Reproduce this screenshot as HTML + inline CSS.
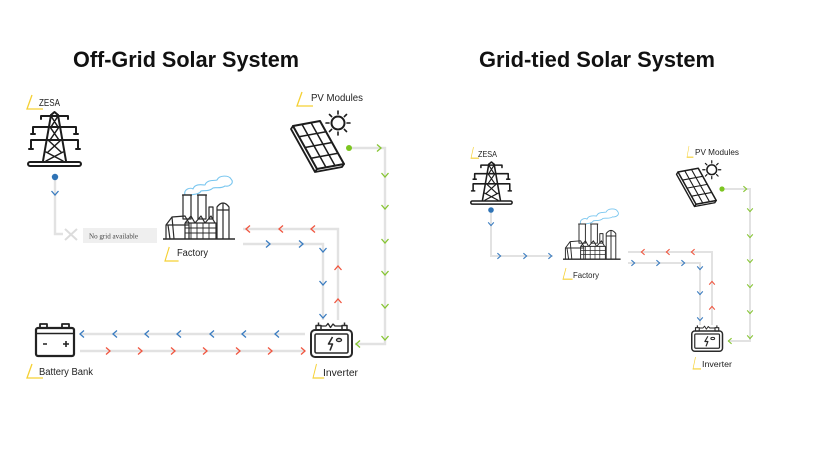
<!DOCTYPE html>
<html>
<head>
<meta charset="utf-8">
<style>
html,body{margin:0;padding:0;background:#fff;}
svg{display:block;}
.t{font-family:"Liberation Sans",Arial,sans-serif;fill:#222;}
.h{font-family:"Liberation Sans",Arial,sans-serif;font-weight:bold;fill:#111;}
</style>
</head>
<body>
<svg width="820" height="462" viewBox="0 0 820 462" xmlns="http://www.w3.org/2000/svg">
<defs>
  <path id="cR" d="M-2,-3.5 L2,0 L-2,3.5" fill="none"/>
  <path id="cL" d="M2,-3.5 L-2,0 L2,3.5" fill="none"/>
  <path id="cD" d="M-3.5,-2 L0,2 L3.5,-2" fill="none"/>
  <path id="cU" d="M-3.5,2 L0,-2 L3.5,2" fill="none"/>
  <path id="sR" d="M-1.6,-2.8 L1.6,0 L-1.6,2.8" fill="none"/>
  <path id="sL" d="M1.6,-2.8 L-1.6,0 L1.6,2.8" fill="none"/>
  <path id="sD" d="M-2.8,-1.6 L0,1.6 L2.8,-1.6" fill="none"/>
  <path id="sU" d="M-2.8,1.6 L0,-1.6 L2.8,1.6" fill="none"/>

  <g id="pylon" fill="none" stroke="#1c1c1c" stroke-width="2" stroke-linecap="round" stroke-linejoin="round">
    <rect x="1" y="50" width="53" height="4" rx="2"/>
    <path d="M16,49 L24,3 M39,49 L31,3"/>
    <path d="M24,3 L27.5,0 L31,3"/>
    <path d="M14,4 H41 M14,4 V7 M41,4 V7"/>
    <path d="M6,15 H49 M6,15 V22 M49,15 V22 M4,22 H8 M47,22 H51"/>
    <path d="M4,28 H51 M4,28 V37 M51,28 V37 M2,37 H6 M49,37 H53"/>
    <path d="M24,4 L31,15 M31,4 L24,15 M23,15 L32,28 M32,15 L23,28 M21,28 L34,40 M34,28 L21,40 M19,40 L36,49 M36,40 L19,49" stroke-width="1.5"/>
  </g>

  <g id="factory" fill="none" stroke="#2a2a2a" stroke-width="1.2" stroke-linejoin="round">
    <path d="M22,20 C20,14 28,12 30,14 C32,8 40,10 42,10 C44,4 52,6 54,5 C56,0 66,0 68,4 C72,8 66,12 62,11 C58,14 52,12 50,13 C46,17 40,15 38,16 C36,20 30,19 28,20 Z" stroke="#79c6ef" stroke-width="1.1"/>
    <path d="M0,64 H72" stroke-width="1.6"/>
    <rect x="20" y="20" width="8" height="24"/>
    <rect x="35" y="20" width="8" height="24"/>
    <path d="M19,20 H29 M34,20 H44"/>
    <rect x="46" y="32" width="4" height="12"/>
    <path d="M54,64 V32 Q60,24 66,32 V64 M54,35 H66 M60,28 V64" />
    <path d="M3,64 V50 L9,42 L22,41 L26,48 V64 M9,42 L11,64 M5,50 L7,64 M3,50 H26"/>
    <path d="M22,48 L28,41 L32,48 L38,41 L42,48 L48,41 L52,48 M22,48 H53 V64 M22,48 V64"/>
    <path d="M28,48 V64 M34,48 V64 M40,48 V64 M46,48 V64 M22,53 H53 M22,58 H53" stroke-width="0.9"/>
  </g>

  <g id="inv" fill="none" stroke="#2a2a2a" stroke-width="2" stroke-linejoin="round">
    <rect x="1" y="8" width="41" height="27" rx="4"/>
    <rect x="5" y="12" width="33" height="19" rx="1.5" stroke-width="1.6"/>
    <rect x="6" y="3.5" width="5" height="4.5" stroke-width="1.5"/>
    <rect x="32" y="3.5" width="5" height="4.5" stroke-width="1.5"/>
    <path d="M8.5,3.5 V0.5 M34.5,3.5 V0.5" stroke-width="1.5"/>
    <path d="M11,4 H16 L18,1.5 L20.5,5.5 L23,2 L25,4 H32" stroke-width="1.3"/>
    <path d="M22.5,15 L18.5,22 H22.5 L20,28.5" stroke-width="1.6"/>
    <ellipse cx="29" cy="18" rx="2.5" ry="1.5" stroke-width="1.4"/>
  </g>

  <g id="batt" fill="none" stroke="#222" stroke-width="2.2" stroke-linejoin="round">
    <rect x="1" y="6" width="38" height="28" rx="2"/>
    <path d="M5,6 V2 H12 V6 M27,6 V2 H34 V6" stroke-width="1.8"/>
    <path d="M1,11.5 H39" stroke-width="1.6"/>
    <path d="M8,22 H12 M28,22 H34 M31,19 V25" stroke-width="1.6"/>
  </g>

  <g id="pv" fill="none" stroke="#1c1c1c" stroke-width="2" stroke-linejoin="round" stroke-linecap="round">
    <path d="M0,0 L27,-5 L51,38 L24,43 Z"/>
    <path d="M0,0 L-2,3 L22,46 L24,43 M22,46 L49,41 L51,38" stroke-width="1.8"/>
    <path d="M9,-1.67 L33,41.33 M18,-3.33 L42,39.67 M6,10.75 L33,5.75 M12,21.5 L39,16.5 M18,32.25 L45,27.25" stroke-width="1.5"/>
    <circle cx="45" cy="-3" r="6.5"/>
    <path d="M45,-12 V-15 M45,6 V9 M36,-3 H33 M54,-3 H57 M51.4,-9.4 L53.5,-11.5 M38.6,-9.4 L36.5,-11.5 M51.4,3.4 L53.5,5.5 M38.6,3.4 L36.5,5.5" stroke-width="1.6"/>
  </g>

  <path id="mark" d="M5,0 L0,14 H16" fill="none" stroke="#f5d033" stroke-width="1.3"/>
</defs>

<!-- Titles -->
<text class="h" x="73" y="67" font-size="22" textLength="226" lengthAdjust="spacingAndGlyphs">Off-Grid Solar System</text>
<text class="h" x="479" y="67" font-size="22" textLength="236" lengthAdjust="spacingAndGlyphs">Grid-tied Solar System</text>

<!-- ===== LEFT DIAGRAM ===== -->
<g fill="none" stroke="#e2e2e2" stroke-width="2.4">
  <path d="M55,178 V234 H63"/>
  <path d="M243,229 H338 V320"/>
  <path d="M243,244 H323 V320"/>
  <path d="M80,334 H305"/>
  <path d="M80,351 H305"/>
  <path d="M349,148 H385 V344 H355"/>
</g>
<path d="M65,229 L77,240 M77,229 L65,240" stroke="#dcdcdc" stroke-width="2" fill="none"/>
<rect x="83" y="228" width="74" height="15" fill="#efefef"/>
<text x="89" y="238.5" font-family="'Liberation Serif',serif" font-size="7" fill="#444" textLength="49" lengthAdjust="spacingAndGlyphs">No grid available</text>

<circle cx="55" cy="177" r="3.2" fill="#2f73b5"/>
<circle cx="349" cy="148" r="3" fill="#7cc520"/>

<g stroke="#3a7cc0" stroke-width="1.3">
  <use href="#cD" x="55" y="193"/>
  <use href="#cR" x="268" y="244"/><use href="#cR" x="301" y="244"/>
  <use href="#cD" x="323" y="250"/><use href="#cD" x="323" y="283"/><use href="#cD" x="323" y="316"/>
  <use href="#cL" x="82" y="334"/><use href="#cL" x="115" y="334"/><use href="#cL" x="147" y="334"/><use href="#cL" x="179" y="334"/><use href="#cL" x="212" y="334"/><use href="#cL" x="244" y="334"/><use href="#cL" x="277" y="334"/>
</g>
<g stroke="#f0553f" stroke-width="1.3">
  <use href="#cL" x="248" y="229"/><use href="#cL" x="281" y="229"/><use href="#cL" x="313" y="229"/>
  <use href="#cU" x="338" y="268"/><use href="#cU" x="338" y="301"/>
  <use href="#cR" x="108" y="351"/><use href="#cR" x="140" y="351"/><use href="#cR" x="173" y="351"/><use href="#cR" x="205" y="351"/><use href="#cR" x="238" y="351"/><use href="#cR" x="270" y="351"/><use href="#cR" x="303" y="351"/>
</g>
<g stroke="#86c532" stroke-width="1.3">
  <use href="#cR" x="379" y="148"/>
  <use href="#cD" x="385" y="175"/><use href="#cD" x="385" y="207"/><use href="#cD" x="385" y="241"/><use href="#cD" x="385" y="273"/><use href="#cD" x="385" y="306"/><use href="#cD" x="385" y="338"/>
  <use href="#cL" x="358" y="344"/>
</g>

<use href="#pylon" transform="translate(27,112)"/>
<use href="#factory" transform="translate(163,175)"/>
<use href="#inv" transform="translate(310,322)"/>
<use href="#batt" transform="translate(35,322)"/>
<use href="#pv" transform="translate(293,126)"/>

<use href="#mark" transform="translate(27,95)"/>
<text class="t" x="39" y="106" font-size="10" textLength="21" lengthAdjust="spacingAndGlyphs">ZESA</text>
<use href="#mark" transform="translate(297,92)"/>
<text class="t" x="311" y="101" font-size="10" textLength="52" lengthAdjust="spacingAndGlyphs">PV Modules</text>
<use href="#mark" transform="translate(165,247) scale(0.85,1)"/>
<text class="t" x="177" y="256" font-size="10" textLength="31" lengthAdjust="spacingAndGlyphs">Factory</text>
<use href="#mark" transform="translate(27,364)"/>
<text class="t" x="39" y="375" font-size="10" textLength="54" lengthAdjust="spacingAndGlyphs">Battery Bank</text>
<use href="#mark" transform="translate(313,364) scale(0.7,1)"/>
<text class="t" x="323" y="376" font-size="10" textLength="35" lengthAdjust="spacingAndGlyphs">Inverter</text>

<!-- ===== RIGHT DIAGRAM ===== -->
<g fill="none" stroke="#e2e2e2" stroke-width="2">
  <path d="M491,211 V256 H553"/>
  <path d="M628,252 H712 V325"/>
  <path d="M628,263 H700 V325"/>
  <path d="M722,189 H750 V341 H728"/>
</g>
<circle cx="491" cy="210" r="2.8" fill="#2f73b5"/>
<circle cx="722" cy="189" r="2.6" fill="#7cc520"/>

<g stroke="#3a7cc0" stroke-width="1.1">
  <use href="#sD" x="491" y="224"/>
  <use href="#sR" x="499" y="256"/><use href="#sR" x="525" y="256"/><use href="#sR" x="550" y="256"/>
  <use href="#sR" x="633" y="263"/><use href="#sR" x="658" y="263"/><use href="#sR" x="683" y="263"/>
  <use href="#sD" x="700" y="268"/><use href="#sD" x="700" y="293"/><use href="#sD" x="700" y="319"/>
</g>
<g stroke="#f0553f" stroke-width="1.1">
  <use href="#sL" x="643" y="252"/><use href="#sL" x="668" y="252"/><use href="#sL" x="693" y="252"/>
  <use href="#sU" x="712" y="283"/><use href="#sU" x="712" y="308"/>
</g>
<g stroke="#86c532" stroke-width="1.1">
  <use href="#sR" x="745" y="189"/>
  <use href="#sD" x="750" y="210"/><use href="#sD" x="750" y="236"/><use href="#sD" x="750" y="261"/><use href="#sD" x="750" y="286"/><use href="#sD" x="750" y="312"/><use href="#sD" x="750" y="337"/>
  <use href="#sL" x="730" y="341"/>
</g>

<use href="#pylon" transform="translate(470,162) scale(0.78)"/>
<use href="#factory" transform="translate(563,208) scale(0.8)"/>
<use href="#inv" transform="translate(691,325) scale(0.75)"/>
<use href="#pv" transform="translate(678,172) scale(0.75)"/>

<use href="#mark" transform="translate(471,147) scale(0.5,0.8)"/>
<text class="t" x="478" y="157" font-size="8.5" textLength="19" lengthAdjust="spacingAndGlyphs">ZESA</text>
<use href="#mark" transform="translate(687,146) scale(0.4,0.8)"/>
<text class="t" x="695" y="155" font-size="8.5" textLength="44" lengthAdjust="spacingAndGlyphs">PV Modules</text>
<use href="#mark" transform="translate(563,268) scale(0.6,0.8)"/>
<text class="t" x="573" y="278" font-size="8.5" textLength="26" lengthAdjust="spacingAndGlyphs">Factory</text>
<use href="#mark" transform="translate(693,357) scale(0.5,0.85)"/>
<text class="t" x="702" y="367" font-size="8.5" textLength="30" lengthAdjust="spacingAndGlyphs">Inverter</text>
</svg>
</body>
</html>
